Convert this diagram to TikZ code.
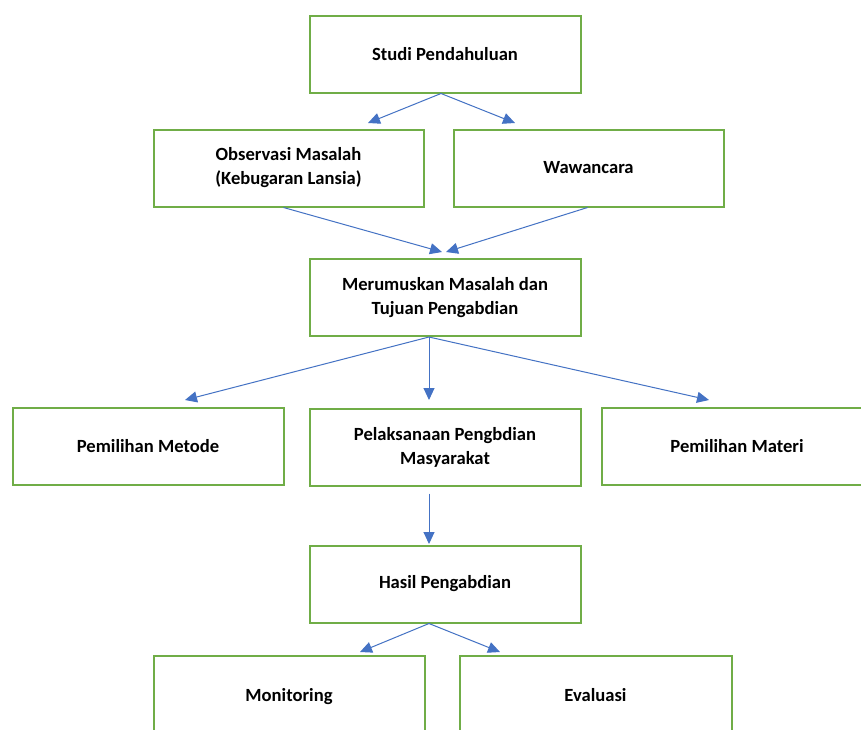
\documentclass[tikz,border=0pt]{standalone}
\usepackage{fontspec}
\setmainfont{Carlito}
\usetikzlibrary{arrows.meta,calc}
\definecolor{boxgreen}{HTML}{70AD47}
\definecolor{arrowblue}{HTML}{4472C4}
\tikzset{
  boxnode/.style={draw=boxgreen, line width=2pt, fill=white, rectangle,
    minimum height=77pt, inner sep=0pt, align=center,
    font=\fontsize{18.6}{24}\selectfont\bfseries},
  conn/.style={draw=arrowblue, line width=1pt,
    -{Triangle[length=12pt,width=11pt]}}
}
\begin{document}
\begin{tikzpicture}[x=1pt,y=-1pt]
\clip (0,0) rectangle (861,729);
\fill[white] (0,0) rectangle (861,729);
% boxes
\node[boxnode, minimum width=271pt] (studi) at (445,54) {Studi Pendahuluan};
\node[boxnode, minimum width=270pt] (obs) at (288.5,168) {Observasi Masalah\\(Kebugaran Lansia)};
\node[boxnode, minimum width=270pt] (waw) at (588.5,168) {Wawancara};
\node[boxnode, minimum width=271pt] (mer) at (445,297.5) {Merumuskan Masalah dan\\Tujuan Pengabdian};
\node[boxnode, minimum width=271pt] (met) at (148,446.5) {Pemilihan Metode};
\node[boxnode, minimum width=271pt] (pel) at (445,447) {Pelaksanaan Pengbdian\\Masyarakat};
\node[boxnode, minimum width=271pt] (mat) at (737,446.5) {Pemilihan Materi};
\node[boxnode, minimum width=271pt] (has) at (445,584) {Hasil Pengabdian};
\node[boxnode, minimum width=271pt, minimum height=78pt, text depth=0pt] (mon) at (289,695) {Monitoring};
\node[boxnode, minimum width=272pt, minimum height=78pt, text depth=0pt] (eva) at (595.5,695) {Evaluasi};
% connector start points
\coordinate (studiS) at ($(studi.south)+(-4,0)$);
\coordinate (obsS) at ($(obs.south)+(-5,0)$);
\coordinate (wawS) at ($(waw.south)+(-1,0)$);
\coordinate (merS) at ($(mer.south)+(-16,0)$);
\coordinate (pelS) at ($(pel.south)+(-16,7)$);
\coordinate (hasS) at ($(has.south)+(-16,0)$);
% connector end points
\coordinate (obsT) at (368,123);
\coordinate (wawT) at (515,123);
\coordinate (merTL) at (442,252);
\coordinate (merTR) at (446,252);
\coordinate (metT) at (185,400);
\coordinate (pelT) at (429,400);
\coordinate (matT) at (709,400);
\coordinate (hasT) at (429,544);
\coordinate (monT) at (360,652);
\coordinate (evaT) at (500,652);
% connectors
\draw[conn] (studiS) -- (obsT);
\draw[conn] (studiS) -- (wawT);
\draw[conn] (obsS) -- (merTL);
\draw[conn] (wawS) -- (merTR);
\draw[conn] (merS) -- (metT);
\draw[conn] (merS) -- (pelT);
\draw[conn] (merS) -- (matT);
\draw[conn] (pelS) -- (hasT);
\draw[conn] (hasS) -- (monT);
\draw[conn] (hasS) -- (evaT);
\end{tikzpicture}
\end{document}
